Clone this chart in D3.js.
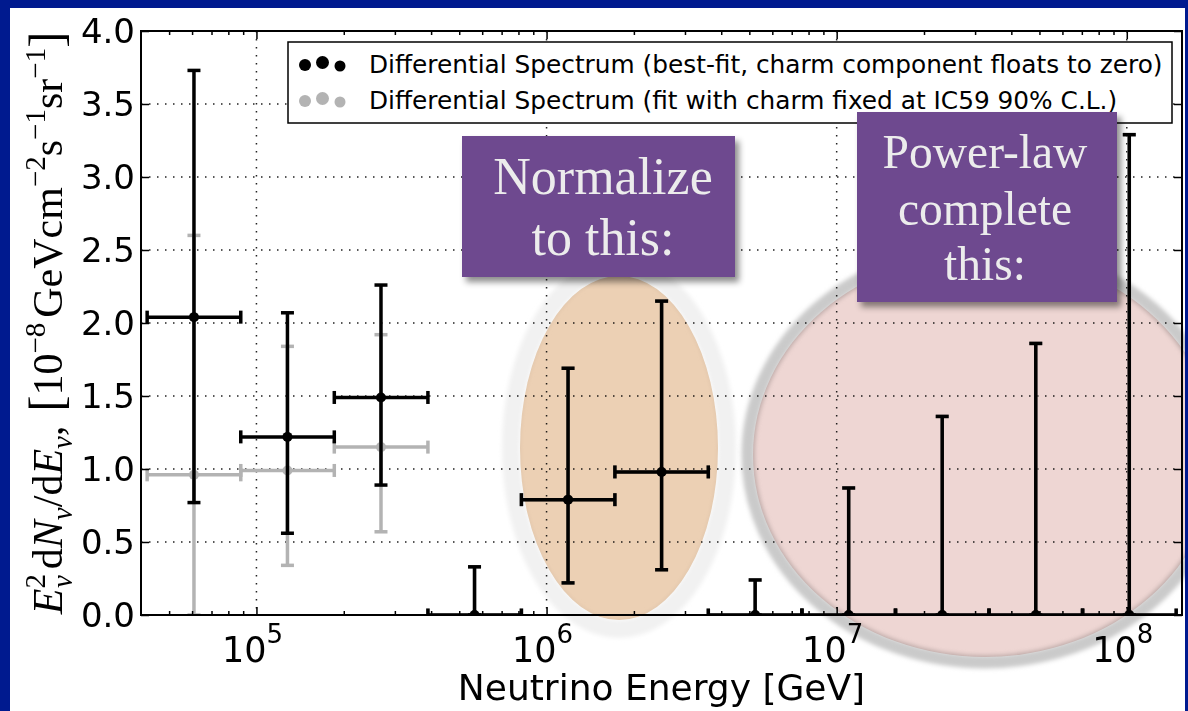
<!DOCTYPE html>
<html>
<head>
<meta charset="utf-8">
<script src="https://cdn.jsdelivr.net/npm/d3@7"></script>
<style>
  body { margin: 0; background: #001a8f; }
  svg { display: block; }
</style>
</head>
<body>
<svg id="chart" width="1188" height="711"></svg>
<script>
// energy bins [GeV]
var binLow    = [4.20e4, 8.83e4, 1.855e5, 3.90e5, 8.19e5, 1.72e6, 3.61e6, 7.59e6, 1.595e7, 3.35e7, 7.04e7];
var binHigh   = [8.83e4, 1.855e5, 3.90e5, 8.19e5, 1.72e6, 3.61e6, 7.59e6, 1.595e7, 3.35e7, 7.04e7, 1.48e8];
var binCenter = [6.09e4, 1.279e5, 2.687e5, 5.646e5, 1.186e6, 2.492e6, 5.236e6, 1.100e7, 2.311e7, 4.856e7, 1.020e8];

// best-fit (charm floats to zero)
var bestVal  = [2.04, 1.22, 1.49, 0, 0.79, 0.98, 0, 0, 0, 0, 0];
var bestLow  = [0.77, 0.56, 0.89, 0, 0.22, 0.31, 0, 0, 0, 0, 0];
var bestHigh = [3.73, 2.07, 2.26, 0.33, 1.69, 2.15, 0.24, 0.87, 1.36, 1.86, 3.29];

// charm fixed at IC59 90% C.L.
var charmVal  = [0.96, 0.99, 1.15, 0, 0.79, 0.98, 0, 0, 0, 0, 0];
var charmLow  = [0.00, 0.34, 0.57, 0, 0.22, 0.31, 0, 0, 0, 0, 0];
var charmHigh = [2.60, 1.84, 1.92, 0.33, 1.69, 2.15, 0.24, 0.87, 1.36, 1.86, 3.29];

var xDomain = [4.0e4, 1.55e8];
var xMajor = [1e5, 1e6, 1e7, 1e8];
var xMajorLabels = ['5', '6', '7', '8'];
var yTicks = [0, 0.5, 1.0, 1.5, 2.0, 2.5, 3.0, 3.5, 4.0];

var legendLabels = ['Differential Spectrum (best-fit, charm component floats to zero)',
                    'Differential Spectrum (fit with charm fixed at IC59 90% C.L.)'];

var blackCol = '#000000',
    grayCol = '#b3b3b3';

var svg = d3.select('#chart');
var L = 141, R = 1182, T = 31, B = 615;

var x = d3.scaleLog().domain(xDomain).range([L, R]);
var y = d3.scaleLinear().domain([0, 4]).range([B, T]);

var defs = svg.append('defs');
defs.append('clipPath').attr('id', 'plotclip')
  .append('rect').attr('x', L).attr('y', T).attr('width', R - L).attr('height', B - T);
var sh = defs.append('filter').attr('id', 'shadow')
  .attr('x', '-10%').attr('y', '-10%').attr('width', '125%').attr('height', '130%');
sh.append('feDropShadow').attr('dx', 4).attr('dy', 5).attr('stdDeviation', 3)
  .attr('flood-color', '#000').attr('flood-opacity', 0.45);
defs.append('filter').attr('id', 'soft').attr('x', '-20%').attr('y', '-20%').attr('width', '140%').attr('height', '140%')
  .append('feGaussianBlur').attr('stdDeviation', 2);

// background + white panel
svg.append('rect').attr('width', 1188).attr('height', 711).attr('fill', '#001a8f');
svg.append('rect').attr('x', 10).attr('y', 8).attr('width', 1175).attr('height', 703).attr('fill', '#fff');

//grid
var grid = svg.append('g');
grid.selectAll('.gx').data(xMajor).enter().append('line')
  .attr('x1', function(d) { return x(d); }).attr('x2', function(d) { return x(d); })
  .attr('y1', T).attr('y2', B);
grid.selectAll('.gy').data(yTicks.slice(1, -1)).enter().append('line')
  .attr('x1', L).attr('x2', R)
  .attr('y1', function(d) { return y(d); }).attr('y2', function(d) { return y(d); });
grid.selectAll('line').attr('stroke', '#222').attr('stroke-width', 1.5)
  .attr('stroke-dasharray', '1.5,6.5');

// error bars
var plot = svg.append('g').attr('clip-path', 'url(#plotclip)');

function drawSeries(vals, lo, hi, col) {
  var g = plot.append('g').attr('stroke', col).attr('stroke-width', 3.5).attr('fill', col);
  var idx = d3.range(vals.length);
  var both = idx.concat(idx.map(function(i) { return -1 - i; }));
  function k(i) { return i >= 0 ? i : -1 - i; }
  // horizontal (bin width)
  g.selectAll('.h').data(idx).enter().append('line')
    .attr('x1', function(i) { return x(binLow[i]); })
    .attr('x2', function(i) { return x(binHigh[i]); })
    .attr('y1', function(i) { return y(vals[i]); })
    .attr('y2', function(i) { return y(vals[i]); });
  g.selectAll('.hc').data(both).enter().append('line')
    .attr('x1', function(i) { return i >= 0 ? x(binLow[i]) : x(binHigh[k(i)]); })
    .attr('x2', function(i) { return i >= 0 ? x(binLow[i]) : x(binHigh[k(i)]); })
    .attr('y1', function(i) { return y(vals[k(i)]) - 6.5; })
    .attr('y2', function(i) { return y(vals[k(i)]) + 6.5; });
  // vertical (uncertainty)
  g.selectAll('.v').data(idx).enter().append('line')
    .attr('x1', function(i) { return x(binCenter[i]); })
    .attr('x2', function(i) { return x(binCenter[i]); })
    .attr('y1', function(i) { return y(lo[i]); })
    .attr('y2', function(i) { return y(hi[i]); });
  g.selectAll('.vc').data(both).enter().append('line')
    .attr('x1', function(i) { return x(binCenter[k(i)]) - 6.5; })
    .attr('x2', function(i) { return x(binCenter[k(i)]) + 6.5; })
    .attr('y1', function(i) { return i >= 0 ? y(lo[i]) : y(hi[k(i)]); })
    .attr('y2', function(i) { return i >= 0 ? y(lo[i]) : y(hi[k(i)]); });
  g.selectAll('circle').data(idx).enter().append('circle')
    .attr('cx', function(i) { return x(binCenter[i]); })
    .attr('cy', function(i) { return y(vals[i]); })
    .attr('r', 5).attr('stroke', 'none');
}
drawSeries(charmVal, charmLow, charmHigh, grayCol);
drawSeries(bestVal, bestLow, bestHigh, blackCol);

// axes frame + ticks
var ax = svg.append('g').attr('font-family', 'DejaVu Sans');
var minor = [];
[1e4, 1e5, 1e6, 1e7, 1e8].forEach(function(dec) {
  for (var m = 2; m <= 9; m++) {
    var v = dec * m;
    if (v > xDomain[0] && v < xDomain[1]) minor.push(v);
  }
});

function styleAxis(g) {
  g.select('.domain').remove();
  g.selectAll('.tick line').attr('stroke', '#000').attr('stroke-width', 1.5);
  g.selectAll('.tick text').remove();
}
ax.append('g').attr('transform', 'translate(0,' + B + ')')
  .call(d3.axisBottom(x).tickValues(xMajor).tickSize(-8)).call(styleAxis);
ax.append('g').attr('transform', 'translate(0,' + B + ')')
  .call(d3.axisBottom(x).tickValues(minor).tickSize(-4)).call(styleAxis);
ax.append('g').attr('transform', 'translate(0,' + T + ')')
  .call(d3.axisTop(x).tickValues(xMajor).tickSize(-8)).call(styleAxis);
ax.append('g').attr('transform', 'translate(0,' + T + ')')
  .call(d3.axisTop(x).tickValues(minor).tickSize(-4)).call(styleAxis);
ax.append('g').attr('transform', 'translate(' + L + ',0)')
  .call(d3.axisLeft(y).tickValues(yTicks).tickSize(-8)).call(styleAxis);
ax.append('g').attr('transform', 'translate(' + R + ',0)')
  .call(d3.axisRight(y).tickValues(yTicks).tickSize(-8)).call(styleAxis);

ax.append('rect').attr('x', L).attr('y', T).attr('width', R - L).attr('height', B - T)
  .attr('fill', 'none').attr('stroke', '#000').attr('stroke-width', 2);

// y tick labels
ax.selectAll('.ylab').data(yTicks).enter().append('text')
  .attr('x', L - 6).attr('y', function(d) { return y(d) + 12; })
  .attr('text-anchor', 'end').attr('font-size', 34)
  .text(function(d) { return d.toFixed(1); });

// x tick labels 10^n
var xl = ax.selectAll('.xlab').data(xMajor).enter().append('text')
  .attr('x', function(d) { return x(d) - 4; }).attr('y', 662)
  .attr('text-anchor', 'middle').attr('font-size', 35);
xl.append('tspan').text('10');
xl.append('tspan').attr('dy', -19).attr('font-size', 26)
  .text(function(d, i) { return xMajorLabels[i]; });

ax.append('text').attr('x', (L + R) / 2).attr('y', 700)
  .attr('text-anchor', 'middle').attr('font-size', 36)
  .text('Neutrino Energy [GeV]');

// y axis label (math)
var yl = svg.append('text')
  .attr('transform', 'translate(62,' + ((T + B) / 2) + ') rotate(-90)')
  .attr('text-anchor', 'middle')
  .attr('font-family', 'Liberation Serif, DejaVu Serif, serif')
  .attr('font-size', 42).attr('fill', '#000');
var parts = [
  ['E', 0, 0, 'italic', 42],
  ['2', 0, -17, 'normal', 29],
  ['\u03bd', -14, 27, 'italic', 29],
  ['d', 6, -10, 'normal', 42],
  ['N', 0, 0, 'italic', 42],
  ['\u03bd', 0, 10, 'italic', 29],
  ['/d', 0, -10, 'normal', 42],
  ['E', 0, 0, 'italic', 42],
  ['\u03bd', 0, 10, 'italic', 29],
  [',', 0, -10, 'normal', 42],
  ['[', 14, 0, 'normal', 48],
  ['10', 0, 0, 'normal', 42],
  ['\u22128', 0, -17, 'normal', 29],
  ['GeV', 5, 17, 'normal', 42],
  ['cm', 0, 0, 'normal', 42],
  ['\u22122', 0, -17, 'normal', 29],
  ['s', 0, 17, 'normal', 42],
  ['\u22121', 0, -17, 'normal', 29],
  ['sr', 0, 17, 'normal', 42],
  ['\u22121', 0, -17, 'normal', 29],
  [']', 0, 17, 'normal', 48]
];
parts.forEach(function(p) {
  yl.append('tspan').attr('dx', p[1]).attr('dy', p[2])
    .attr('font-style', p[3]).attr('font-size', p[4]).text(p[0]);
});

// highlight ellipses (multiply so the data shows through)
svg.append('ellipse').attr('cx', 619).attr('cy', 448).attr('rx', 108).attr('ry', 181)
  .attr('fill', 'none').attr('stroke', '#f1f1f1').attr('stroke-width', 18)
  .attr('filter', 'url(#soft)').style('mix-blend-mode', 'multiply');
svg.append('ellipse').attr('cx', 619).attr('cy', 448).attr('rx', 99).attr('ry', 172)
  .attr('fill', '#ecd0b4').style('mix-blend-mode', 'multiply');

svg.append('ellipse').attr('cx', 985).attr('cy', 455).attr('rx', 232).attr('ry', 202)
  .attr('fill', '#eed6d3').style('mix-blend-mode', 'multiply');
svg.append('ellipse').attr('cx', 985).attr('cy', 455).attr('rx', 237).attr('ry', 207)
  .attr('fill', 'none').attr('stroke', '#cacaca').attr('stroke-width', 13)
  .attr('filter', 'url(#soft)').style('mix-blend-mode', 'multiply');
// keep the blue frame on the right
svg.append('rect').attr('x', 1185).attr('y', 0).attr('width', 3).attr('height', 711).attr('fill', '#001a8f');

// legend
var lg = svg.append('g').attr('font-family', 'DejaVu Sans');
lg.append('rect').attr('x', 288).attr('y', 42).attr('width', 884).attr('height', 81)
  .attr('fill', '#fff').attr('stroke', '#000').attr('stroke-width', 1.5);
var dotsRow = [[305, 1, 6], [322.5, -1.5, 6.5], [340, 2, 5.5]];
[blackCol, grayCol].forEach(function(col, r) {
  var cy = 64 + r * 36;
  lg.selectAll('.d' + r).data(dotsRow).enter().append('circle')
    .attr('cx', function(d) { return d[0]; }).attr('cy', function(d) { return cy + d[1]; })
    .attr('r', function(d) { return d[2]; }).attr('fill', col);
  lg.append('text').attr('x', 369).attr('y', cy + 8.5).attr('font-size', 24.8)
    .attr('fill', '#000').text(legendLabels[r]);
});

// annotation boxes
function noteBox(bx, by, bw, bh, lines, fs, baselines, cx) {
  var g = svg.append('g');
  g.append('rect').attr('x', bx).attr('y', by).attr('width', bw).attr('height', bh)
    .attr('fill', '#6e4a8f').attr('filter', 'url(#shadow)');
  g.selectAll('text').data(lines).enter().append('text')
    .attr('x', cx).attr('y', function(d, i) { return baselines[i]; })
    .attr('text-anchor', 'middle').attr('font-family', 'Liberation Serif, serif')
    .attr('font-size', fs).attr('fill', '#ececec').text(function(d) { return d; });
}
noteBox(462, 136, 273, 141, ['Normalize', 'to this:'], 52, [194, 255], 603);
noteBox(857, 112, 260, 190, ['Power-law', 'complete', 'this:'], 47.5, [168, 225, 280], 985);
</script>
</body>
</html>
